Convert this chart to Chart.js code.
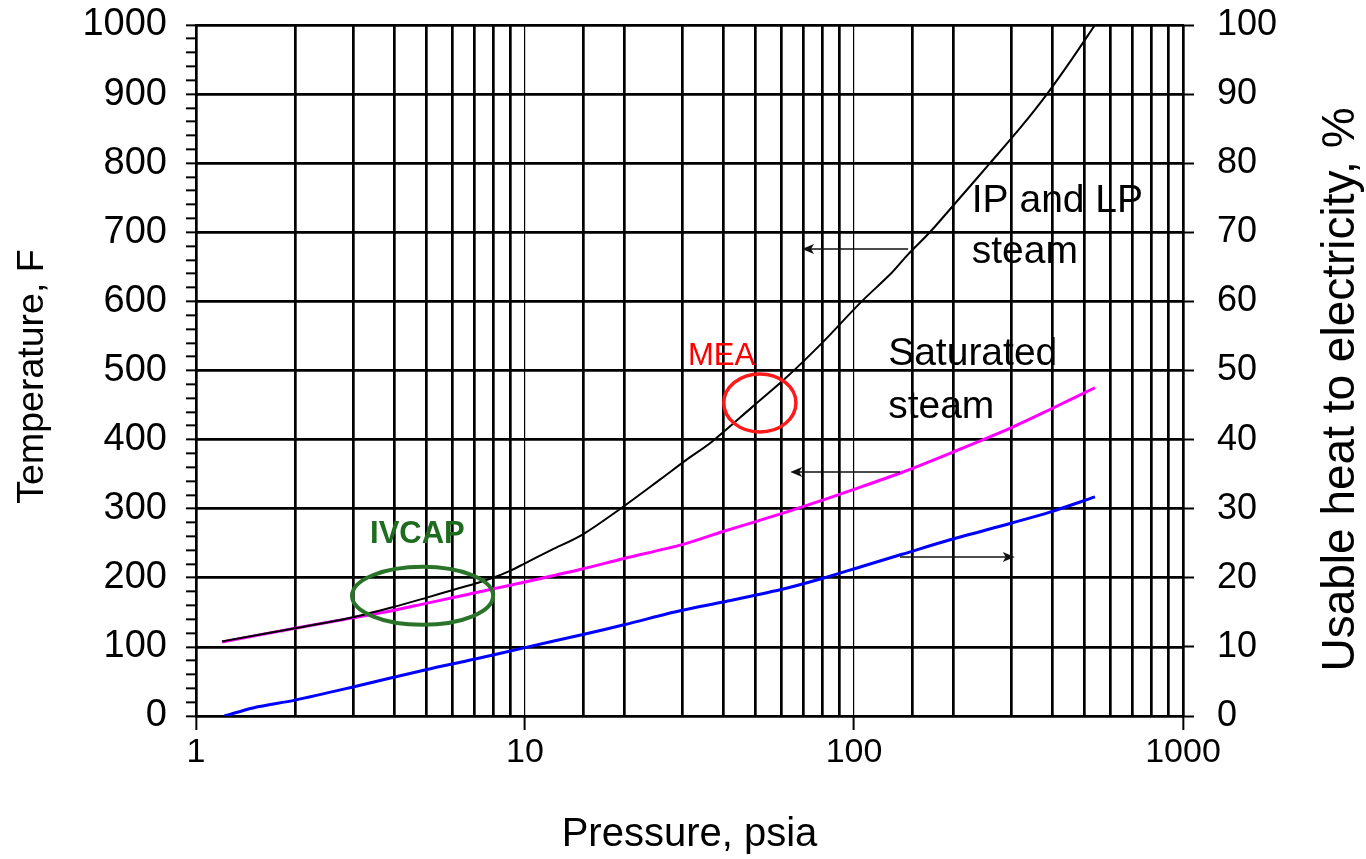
<!DOCTYPE html>
<html>
<head>
<meta charset="utf-8">
<script src="https://cdn.jsdelivr.net/npm/chart.js@4.4.1/dist/chart.umd.min.js"></script>
<style>
  html, body { margin: 0; padding: 0; background: #ffffff; }
  canvas { display: block; }
</style>
</head>
<body>
<canvas id="chart" width="1366" height="859"></canvas>
<script>
// IP and LP steam: pressure (psia) vs temperature (F), left axis
const ipLpPressure = [1.2, 2, 3, 4, 5, 6, 7, 8, 9, 10, 12, 15, 19.5, 25.7, 31, 37, 49, 62, 80, 105, 130, 146, 170, 210, 259, 320, 386, 460, 540];
const ipLpTemp     = [108, 127, 143, 158, 171, 182, 191, 200, 210, 221, 240, 263, 300, 342, 371, 397, 447, 489, 540, 599, 641, 668, 700, 750, 800, 851, 900, 951, 1000];

// Saturated steam: pressure (psia) vs temperature (F), left axis
const satPressure = [1.2, 2, 3, 4, 5, 6, 7, 8, 10, 14.7, 20, 30, 40, 50, 70, 100, 139, 200, 300, 400, 540];
const satTemp     = [107, 127, 142, 153, 163, 171, 178, 184, 194, 212, 228, 248, 267, 281, 303, 328, 352, 382, 417, 445, 475];

// Usable heat to electricity (%), right axis
const heatPressure = [1.22, 1.5, 2, 3, 5, 7, 10, 15, 20, 30, 40, 60, 80, 105, 140, 196, 300, 394, 540];
const heatPct      = [0, 1.2, 2.3, 4.2, 6.7, 8.2, 9.9, 11.8, 13.2, 15.3, 16.5, 18.3, 19.9, 21.6, 23.4, 25.5, 27.9, 29.5, 31.7];

// Axis ranges and labelled ticks
const pressureLabels = [1, 10, 100, 1000];
const tempRange = [0, 1000];
const heatRange = [0, 100];

// Axis titles
const xTitle = 'Pressure, psia';
const leftTitle = 'Temperature, F';
const rightTitle = 'Usable heat to electricity, %';

// Callouts, positioned in (pressure, temperature) units
const calloutTexts = [
  { text: 'IP and LP', p: 228, t: 729, color: '#000000', font: '39px', bold: false },
  { text: 'steam',     p: 228, t: 655, color: '#000000', font: '39px', bold: false },
  { text: 'Saturated', p: 127, t: 508, color: '#000000', font: '39px', bold: false },
  { text: 'steam',     p: 127, t: 431, color: '#000000', font: '39px', bold: false },
  { text: 'MEA',       p: 31.3, t: 508, color: '#ff0000', font: '31px', bold: false },
  { text: 'IVCAP',     p: 3.38, t: 250, color: '#1f6b1f', font: '31px', bold: true }
];
const calloutEllipses = [
  { p0: 40.2, p1: 66.6, t0: 411, t1: 495, color: '#ff1a1a', width: 3.5 },
  { p0: 2.98, p1: 8.0,  t0: 132, t1: 216, color: '#2a742a', width: 4 }
];
const calloutArrows = [
  { pFrom: 146, pTo: 69.5, t: 676 },
  { pFrom: 138, pTo: 64,   t: 353 },
  { pFrom: 138, pTo: 308,  t: 230 }
];

const FONT = "'Liberation Sans', Arial, Helvetica, sans-serif";
const isPow10 = v => Math.abs(Math.log10(v) - Math.round(Math.log10(v))) < 1e-9;
const toXY = (xs, ys) => xs.map((x, i) => ({ x: x, y: ys[i] }));

// side axes get a fixed width and no extra top/bottom label padding
const fixSideAxis = width => s => {
  s.width = width;
  s.paddingTop = 0;
  s.paddingBottom = 0;
};

// vertical axis titles, both reading bottom-to-top
const sideTitlePlugin = {
  id: 'sideTitles',
  afterDraw(chart, args, opts) {
    const ctx = chart.ctx;
    const mid = (chart.chartArea.top + chart.chartArea.bottom) / 2;
    ctx.save();
    ctx.fillStyle = '#000000';
    ctx.textAlign = 'center';
    ctx.textBaseline = 'middle';
    opts.items.forEach(it => {
      ctx.save();
      ctx.font = it.size + 'px ' + FONT;
      ctx.translate(it.x, mid + it.shift);
      ctx.rotate(-Math.PI / 2);
      ctx.fillText(it.text, 0, 0);
      ctx.restore();
    });
    ctx.restore();
  }
};

const calloutPlugin = {
  id: 'callouts',
  afterDatasetsDraw(chart) {
    const ctx = chart.ctx;
    const sx = chart.scales.x, sy = chart.scales.y;
    ctx.save();
    // ellipses
    calloutEllipses.forEach(e => {
      const x0 = sx.getPixelForValue(e.p0), x1 = sx.getPixelForValue(e.p1);
      const y0 = sy.getPixelForValue(e.t0), y1 = sy.getPixelForValue(e.t1);
      ctx.beginPath();
      ctx.ellipse((x0 + x1) / 2, (y0 + y1) / 2, Math.abs(x1 - x0) / 2, Math.abs(y1 - y0) / 2, 0, 0, Math.PI * 2);
      ctx.strokeStyle = e.color;
      ctx.lineWidth = e.width;
      ctx.stroke();
    });
    // arrows
    calloutArrows.forEach(a => {
      const xa = sx.getPixelForValue(a.pFrom), xb = sx.getPixelForValue(a.pTo);
      const y = sy.getPixelForValue(a.t);
      const dir = Math.sign(xb - xa);
      ctx.beginPath();
      ctx.moveTo(xa, y);
      ctx.lineTo(xb - dir * 8, y);
      ctx.strokeStyle = '#111111';
      ctx.lineWidth = 1.5;
      ctx.stroke();
      ctx.beginPath();
      ctx.moveTo(xb, y);
      ctx.lineTo(xb - dir * 12, y - 5);
      ctx.lineTo(xb - dir * 9, y);
      ctx.lineTo(xb - dir * 12, y + 5);
      ctx.closePath();
      ctx.fillStyle = '#111111';
      ctx.fill();
    });
    // texts
    ctx.textAlign = 'left';
    ctx.textBaseline = 'alphabetic';
    calloutTexts.forEach(c => {
      ctx.font = (c.bold ? 'bold ' : '') + c.font + ' ' + FONT;
      ctx.fillStyle = c.color;
      ctx.fillText(c.text, sx.getPixelForValue(c.p), sy.getPixelForValue(c.t));
    });
    ctx.restore();
  }
};

new Chart(document.getElementById('chart'), {
  type: 'line',
  data: {
    datasets: [
      {
        label: 'IP and LP steam',
        data: toXY(ipLpPressure, ipLpTemp),
        borderColor: '#000000',
        borderWidth: 2,
        pointRadius: 0,
        tension: 0.3,
        yAxisID: 'y'
      },
      {
        label: 'Saturated steam',
        data: toXY(satPressure, satTemp),
        borderColor: '#ff00ff',
        borderWidth: 3,
        pointRadius: 0,
        tension: 0.3,
        yAxisID: 'y'
      },
      {
        label: 'Usable heat to electricity',
        data: toXY(heatPressure, heatPct),
        borderColor: '#0000ff',
        borderWidth: 3,
        pointRadius: 0,
        tension: 0.3,
        yAxisID: 'y1'
      }
    ]
  },
  options: {
    responsive: false,
    animation: false,
    events: [],
    layout: { padding: { top: 25, left: 0, right: 0, bottom: 0 } },
    plugins: {
      legend: { display: false },
      tooltip: { enabled: false },
      sideTitles: {
        items: [
          { text: leftTitle,  x: 33,   shift: 6,  size: 37.5 },
          { text: rightTitle, x: 1341, shift: 19, size: 46 }
        ]
      }
    },
    scales: {
      x: {
        type: 'logarithmic',
        position: 'bottom',
        min: pressureLabels[0],
        max: pressureLabels[pressureLabels.length - 1],
        afterFit: s => { s.height = 143; },
        ticks: {
          autoSkip: false,
          maxRotation: 0,
          color: '#000000',
          padding: 2,
          font: { family: FONT, size: 34 },
          callback: v => (pressureLabels.includes(v) ? String(v) : '')
        },
        grid: {
          color: '#000000',
          lineWidth: c => {
            const v = c.tick && c.tick.value;
            return (v === 10 || v === 100) ? 1.2 : 2.7;
          },
          tickLength: 14,
          tickWidth: 2,
          tickColor: c => (c.tick && isPow10(c.tick.value) ? '#000000' : 'rgba(0,0,0,0)')
        },
        border: { display: true, color: '#000000', width: 2 },
        title: {
          display: true,
          text: xTitle,
          color: '#000000',
          font: { family: FONT, size: 40 },
          padding: { top: 0, bottom: 0 }
        }
      },
      y: {
        type: 'linear',
        position: 'left',
        min: tempRange[0],
        max: tempRange[1],
        afterFit: fixSideAxis(196),
        ticks: {
          stepSize: 20,
          autoSkip: false,
          color: '#000000',
          padding: 19,
          font: { family: FONT, size: 38 },
          callback: v => (v % 100 === 0 ? String(v) : '')
        },
        grid: {
          color: c => (c.tick && c.tick.value % 100 === 0 ? '#000000' : 'rgba(0,0,0,0)'),
          lineWidth: 2.7,
          tickLength: 10,
          tickWidth: 2,
          tickColor: '#000000'
        },
        border: { display: true, color: '#000000', width: 2 }
      },
      y1: {
        type: 'linear',
        position: 'right',
        min: heatRange[0],
        max: heatRange[1],
        afterFit: fixSideAxis(183),
        ticks: {
          stepSize: 10,
          autoSkip: false,
          color: '#000000',
          padding: 23,
          font: { family: FONT, size: 36 }
        },
        grid: {
          drawOnChartArea: false,
          color: '#000000',
          tickLength: 11,
          tickWidth: 2,
          tickColor: '#000000'
        },
        border: { display: true, color: '#000000', width: 2 }
      }
    }
  },
  plugins: [calloutPlugin, sideTitlePlugin]
});
</script>
</body>
</html>
